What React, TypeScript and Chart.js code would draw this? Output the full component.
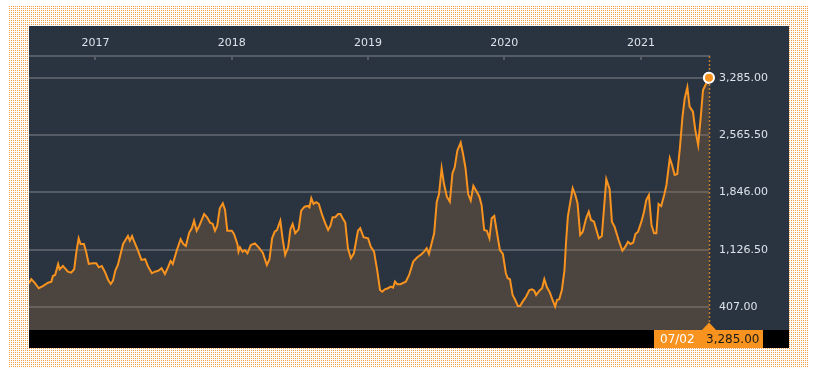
import React, { useEffect, useRef } from "react";
import { Chart, registerables } from "chart.js";

Chart.register(...registerables);

// ---- data ----
const startDate = "2016-07-07";
const dayOffsets = [
  0, 6, 15, 26, 37, 51, 60, 64, 70, 78, 82, 91, 104, 113, 121, 127, 133, 138, 147, 153,
  160, 171, 180, 187, 195, 203, 212, 219, 225, 231, 238, 252, 265, 270, 276, 281, 292, 301,
  311, 319, 329, 337, 346, 355, 364, 373, 379, 385, 396, 406, 413, 420, 429, 436, 442, 449,
  456, 469, 477, 485, 492, 498, 504, 511, 519, 525, 531, 543, 549, 558, 561, 565, 572, 578,
  585, 594, 605, 615, 626, 637, 644, 651, 658, 664, 673, 679, 686, 694, 700, 706, 713, 722,
  729, 738, 747, 751, 756, 762, 769, 776, 785, 794, 801, 807, 813, 820, 828, 834, 840, 847,
  854, 862, 870, 881, 887, 896, 908, 915, 924, 933, 940, 946, 953, 961, 969, 975, 980, 986,
  995, 1009, 1018, 1029, 1040, 1051, 1058, 1065, 1071, 1085, 1092, 1098, 1105, 1111, 1119,
  1127, 1134, 1140, 1147, 1156, 1162, 1169, 1176, 1183, 1190, 1199, 1206, 1212, 1219, 1226,
  1233, 1239, 1246, 1252, 1261, 1269, 1277, 1282, 1288, 1295, 1302, 1309, 1315, 1322, 1331,
  1340, 1347, 1353, 1358, 1367, 1374, 1380, 1387, 1395, 1402, 1409, 1414, 1420, 1427, 1434,
  1438, 1443, 1449, 1456, 1463, 1469, 1476, 1483, 1492, 1499, 1505, 1513, 1526, 1534, 1546,
  1555, 1561, 1568, 1579, 1589, 1597, 1604, 1611, 1618, 1624, 1631, 1640, 1647, 1653, 1660,
  1667, 1674, 1680, 1686, 1693, 1701, 1707, 1716, 1722, 1729, 1736, 1743, 1750, 1756, 1763,
  1769, 1778, 1784, 1792, 1799, 1805, 1821,
];
const values = [
  704, 755, 712, 642, 670, 712, 725, 796, 809, 947, 880, 922, 850, 838, 880, 1101, 1269, 1198, 1198, 1101,
  947, 955, 955, 905, 922, 850, 746, 696, 737, 862, 934, 1198, 1298, 1239, 1298, 1235, 1113, 997,
  1006, 913, 830, 850, 862, 893, 821, 913, 984, 947, 1122, 1257, 1198, 1173, 1339, 1395, 1490, 1364,
  1424, 1574, 1533, 1465, 1449, 1364, 1424, 1646, 1708, 1624, 1364, 1364, 1323, 1198, 1101, 1156, 1101, 1122,
  1081, 1185, 1206, 1156, 1088, 934, 1006, 1269, 1352, 1373, 1490, 1269, 1060, 1156, 1382, 1449, 1332, 1382,
  1616, 1666, 1675, 1658, 1771, 1700, 1721, 1700, 1562, 1449, 1373, 1424, 1533, 1533, 1574, 1574, 1520, 1465,
  1143, 1018, 1081, 1364, 1395, 1282, 1269, 1164, 1101, 850, 620, 599, 629, 642, 662, 649, 725, 692,
  692, 725, 809, 976, 1031, 1068, 1101, 1143, 1072, 1332, 1728, 1825, 2148, 1959, 1791,
  1728, 2085, 2160, 2369, 2469, 2336, 2148, 1825, 1741, 1926, 1854, 1791, 1687, 1373, 1364,
  1269, 1520, 1549, 1373, 1122, 1072, 830, 767, 755, 558, 495, 420, 420, 474, 536,
  620, 629, 612, 558, 612, 642, 755, 654, 587, 495, 411, 495, 504, 620, 871,
  1206, 1540, 1708, 1897, 1813, 1708, 1311, 1352, 1520, 1603, 1499, 1478, 1269, 1298, 2010,
  1884, 1478, 1415, 1248, 1113, 1164, 1226, 1198, 1214, 1323, 1352, 1478, 1603, 1750, 1813,
  1436, 1332, 1332, 1700, 1675, 1813, 1938, 2273, 2189, 2064, 2076, 2399, 2796, 3026, 3164,
  2921, 2858, 2637, 2440, 2796, 3130, 3285,
];
const yTickValues = [407, 1126.5, 1846, 2565.5, 3285];
const yearTicks = [2017, 2018, 2019, 2020, 2021];
const yMin = 118;
const yMax = 3557;

const DAY = 86400000;
const START = Date.parse(startDate + "T00:00:00Z");

const ORANGE = "#f7931e";
const FONT = "DejaVu Sans";
const GRID = "rgba(255,255,255,0.2)";
const fmt = (v: number) =>
  Number(v).toLocaleString("en-US", { minimumFractionDigits: 2, maximumFractionDigits: 2 });

const tickMarks = {
  id: "tickMarks",
  afterDraw(chart: any) {
    const { ctx, chartArea, scales } = chart;
    const xs = scales.x;
    ctx.save();
    ctx.strokeStyle = GRID;
    ctx.lineWidth = 2;
    xs.ticks.forEach((t: any) => {
      const px = Math.round(xs.getPixelForValue(t.value));
      ctx.beginPath();
      ctx.moveTo(px, chartArea.top + 1);
      ctx.lineTo(px, chartArea.top + 4);
      ctx.stroke();
    });
    ctx.restore();
  },
};

const endMarker = {
  id: "endMarker",
  afterDatasetsDraw(chart: any) {
    const { ctx, chartArea } = chart;
    const meta = chart.getDatasetMeta(0);
    const last = meta.data[meta.data.length - 1];
    const x = Math.round(last.x) + 0.5;
    ctx.save();
    ctx.strokeStyle = "#c27b2e";
    ctx.lineWidth = 1.5;
    ctx.setLineDash([2, 2]);
    ctx.beginPath();
    ctx.moveTo(x, chartArea.top);
    ctx.lineTo(x, chartArea.bottom);
    ctx.stroke();
    ctx.restore();
    last.draw(ctx, chartArea);
  },
  afterDraw(chart: any) {
    const { ctx, chartArea, width, height } = chart;
    const meta = chart.getDatasetMeta(0);
    const last = meta.data[meta.data.length - 1];
    const x = last.x;
    const b = chartArea.bottom;
    const h = height - b;
    ctx.save();
    ctx.fillStyle = "#000";
    ctx.fillRect(0, b, width, h);
    ctx.fillStyle = ORANGE;
    ctx.fillRect(Math.round(x - 55), b, 109, h);
    ctx.beginPath();
    ctx.moveTo(x - 7.5, b + 0.5);
    ctx.lineTo(x, b - 7.5);
    ctx.lineTo(x + 7.5, b + 0.5);
    ctx.closePath();
    ctx.fill();
    const d = new Date(START + dayOffsets[dayOffsets.length - 1] * DAY);
    const mm = String(d.getUTCMonth() + 1).padStart(2, "0");
    const dd = String(d.getUTCDate()).padStart(2, "0");
    ctx.font = `12px "${FONT}"`;
    ctx.textBaseline = "middle";
    ctx.textAlign = "left";
    ctx.fillStyle = "#ffffff";
    ctx.fillText(`${mm}/${dd}`, x - 49, b + h / 2 + 0.5);
    ctx.fillStyle = "#1b1b1b";
    ctx.fillText(fmt(values[values.length - 1]), x - 3, b + h / 2 + 0.5);
    ctx.restore();
  },
};

export default function App() {
  const ref = useRef<HTMLCanvasElement | null>(null);
  useEffect(() => {
    if (!ref.current) return;
    const lastIdx = values.length - 1;
    const pts = dayOffsets.map((d, i) => ({ x: START + d * DAY, y: values[i] }));
    const chart = new Chart(ref.current, {
      type: "line",
      data: {
        datasets: [
          {
            data: pts,
            borderColor: ORANGE,
            borderWidth: 2,
            backgroundColor: "rgba(154,107,55,0.3)",
            fill: "start",
            tension: 0,
            pointRadius: (c: any) => (c.dataIndex === lastIdx ? 5 : 0),
            pointBackgroundColor: ORANGE,
            pointBorderColor: "#ffffff",
            pointBorderWidth: 2,
          },
        ],
      },
      options: {
        animation: false,
        responsive: false,
        devicePixelRatio: 1,
        events: [],
        layout: { autoPadding: false, padding: { top: 0, left: 0, right: 0, bottom: 18 } },
        plugins: { legend: { display: false }, tooltip: { enabled: false } },
        scales: {
          x: {
            type: "linear",
            position: "top",
            min: START,
            max: START + dayOffsets[dayOffsets.length - 1] * DAY,
            afterBuildTicks: (s: any) => {
              s.ticks = yearTicks.map((y) => ({ value: Date.UTC(y, 0, 1) }));
            },
            afterFit: (s: any) => {
              s.height = 30;
            },
            grid: { display: false, drawTicks: false },
            border: { display: true, color: GRID, width: 2 },
            ticks: {
              autoSkip: false,
              maxRotation: 0,
              padding: 6,
              color: "#dbe2ea",
              font: { family: FONT, size: 11 },
              callback: (v: any) => String(new Date(Number(v)).getUTCFullYear()),
            },
          },
          y: {
            type: "linear",
            position: "right",
            min: yMin,
            max: yMax,
            afterBuildTicks: (s: any) => {
              s.ticks = yTickValues.map((v) => ({ value: v }));
            },
            afterFit: (s: any) => {
              s.width = 80;
            },
            grid: { color: GRID, lineWidth: 2, drawTicks: false },
            border: { display: false },
            ticks: {
              padding: 10,
              color: "#dbe2ea",
              font: { family: FONT, size: 11 },
              callback: (v: any) => fmt(Number(v)),
            },
          },
        },
      },
      plugins: [tickMarks, endMarker],
    } as any);
    return () => chart.destroy();
  }, []);

  return (
    <div
      style={{
        position: "absolute",
        left: 9,
        top: 6,
        width: 800,
        height: 362,
        backgroundColor: "#ffffff",
        backgroundImage:
          "linear-gradient(to right, transparent 1px, #ffffff 1px), linear-gradient(to bottom, #f39c4a 1px, #ffffff 1px)",
        backgroundSize: "2px 2px",
      }}
    >
      <canvas
        ref={ref}
        width={760}
        height={322}
        style={{
          position: "absolute",
          left: 20,
          top: 20,
          width: 760,
          height: 322,
          backgroundColor: "#2a3340",
          display: "block",
        }}
      />
    </div>
  );
}
